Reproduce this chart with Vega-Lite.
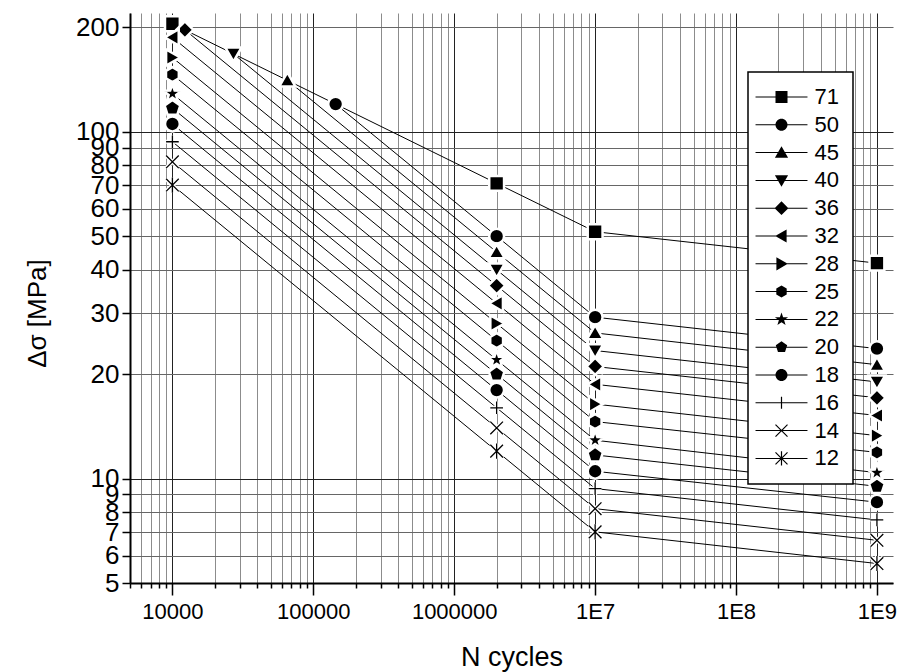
{
  "$schema": "https://vega.github.io/schema/vega-lite/v6.json",
  "autosize": {"type": "none"},
  "width": 763,
  "height": 570,
  "padding": {"left": 130, "top": 13, "right": 19, "bottom": 89},
  "background": "white",
  "config": {
    "font": "Liberation Sans",
    "view": {"stroke": null},
    "legend": {"strokeWidth": 1.5}
  },
  "datasets": {
    "curves": [
      {"cat": 71, "N": 10000, "S": 204.8}, {"cat": 71, "N": 2000000, "S": 71}, {"cat": 71, "N": 10000000, "S": 51.5}, {"cat": 71, "N": 1000000000, "S": 41.8},
      {"cat": 50, "N": 144000, "S": 120.2}, {"cat": 50, "N": 2000000, "S": 50}, {"cat": 50, "N": 10000000, "S": 29.2}, {"cat": 50, "N": 1000000000, "S": 23.7},
      {"cat": 45, "N": 65400, "S": 140.8}, {"cat": 45, "N": 2000000, "S": 45}, {"cat": 45, "N": 10000000, "S": 26.3}, {"cat": 45, "N": 1000000000, "S": 21.3},
      {"cat": 40, "N": 27100, "S": 167.8}, {"cat": 40, "N": 2000000, "S": 40}, {"cat": 40, "N": 10000000, "S": 23.4}, {"cat": 40, "N": 1000000000, "S": 19.0},
      {"cat": 36, "N": 12260, "S": 196.7}, {"cat": 36, "N": 2000000, "S": 36}, {"cat": 36, "N": 10000000, "S": 21.05}, {"cat": 36, "N": 1000000000, "S": 17.1},
      {"cat": 32, "N": 10000, "S": 187.1}, {"cat": 32, "N": 2000000, "S": 32}, {"cat": 32, "N": 10000000, "S": 18.7}, {"cat": 32, "N": 1000000000, "S": 15.2},
      {"cat": 28, "N": 10000, "S": 163.7}, {"cat": 28, "N": 2000000, "S": 28}, {"cat": 28, "N": 10000000, "S": 16.4}, {"cat": 28, "N": 1000000000, "S": 13.3},
      {"cat": 25, "N": 10000, "S": 146.2}, {"cat": 25, "N": 2000000, "S": 25}, {"cat": 25, "N": 10000000, "S": 14.6}, {"cat": 25, "N": 1000000000, "S": 11.9},
      {"cat": 22, "N": 10000, "S": 128.7}, {"cat": 22, "N": 2000000, "S": 22}, {"cat": 22, "N": 10000000, "S": 12.9}, {"cat": 22, "N": 1000000000, "S": 10.4},
      {"cat": 20, "N": 10000, "S": 117.0}, {"cat": 20, "N": 2000000, "S": 20}, {"cat": 20, "N": 10000000, "S": 11.7}, {"cat": 20, "N": 1000000000, "S": 9.5},
      {"cat": 18, "N": 10000, "S": 105.3}, {"cat": 18, "N": 2000000, "S": 18}, {"cat": 18, "N": 10000000, "S": 10.5}, {"cat": 18, "N": 1000000000, "S": 8.55},
      {"cat": 16, "N": 10000, "S": 93.6}, {"cat": 16, "N": 2000000, "S": 16}, {"cat": 16, "N": 10000000, "S": 9.36}, {"cat": 16, "N": 1000000000, "S": 7.6},
      {"cat": 14, "N": 10000, "S": 81.9}, {"cat": 14, "N": 2000000, "S": 14}, {"cat": 14, "N": 10000000, "S": 8.19}, {"cat": 14, "N": 1000000000, "S": 6.64},
      {"cat": 12, "N": 10000, "S": 70.2}, {"cat": 12, "N": 2000000, "S": 12}, {"cat": 12, "N": 10000000, "S": 7.02}, {"cat": 12, "N": 1000000000, "S": 5.69}
    ]
  },
  "encoding": {
    "x": {
      "field": "N", "type": "quantitative",
      "scale": {"type": "log", "domain": [5000, 1300000000], "nice": false, "zero": false},
      "axis": {
        "values": [5000, 6000, 7000, 8000, 9000, 10000, 20000, 30000, 40000, 50000, 60000, 70000, 80000, 90000, 100000, 200000, 300000, 400000, 500000, 600000, 700000, 800000, 900000, 1000000, 2000000, 3000000, 4000000, 5000000, 6000000, 7000000, 8000000, 9000000, 10000000, 20000000, 30000000, 40000000, 50000000, 60000000, 70000000, 80000000, 90000000, 100000000, 200000000, 300000000, 400000000, 500000000, 600000000, 700000000, 800000000, 900000000, 1000000000],
        "labelExpr": "indexof([10000,100000,1000000], datum.value) >= 0 ? format(datum.value, 'd') : (indexof([10000000,100000000,1000000000], datum.value) >= 0 ? '1E' + format(log(datum.value)/LN10, '.0f') : '')",
        "labelFontSize": 22, "labelColor": "black", "labelPadding": 6, "labelOverlap": false, "labelFlush": false,
        "tickSize": {"condition": {"test": "indexof([10000,100000,1000000,10000000,100000000,1000000000], datum.value) >= 0", "value": 12}, "value": 5},
        "tickColor": "black", "tickWidth": 1.5,
        "domainColor": "black", "domainWidth": 2,
        "grid": true,
        "gridColor": {"condition": {"test": "indexof([10000,100000,1000000,10000000,100000000,1000000000], datum.value) >= 0", "value": "#222"}, "value": "#8c8c8c"},
        "gridWidth": 1,
        "title": "N cycles", "titleFontSize": 27, "titleFontWeight": "normal", "titleColor": "black",
        "titleY": 82, "titleBaseline": "alphabetic"
      }
    },
    "y": {
      "field": "S", "type": "quantitative",
      "scale": {"type": "log", "domain": [5, 220], "nice": false, "zero": false},
      "axis": {
        "values": [5, 6, 7, 8, 9, 10, 20, 30, 40, 50, 60, 70, 80, 90, 100, 200],
        "labelExpr": "format(datum.value, 'd')",
        "labelFontSize": 26, "labelColor": "black", "labelPadding": 3, "labelOverlap": false, "labelFlush": false,
        "tickSize": 8, "tickColor": "black", "tickWidth": 1.5,
        "domainColor": "black", "domainWidth": 2,
        "grid": true,
        "gridColor": {"condition": {"test": "datum.value == 10 || datum.value == 100", "value": "#222"}, "value": "#666"},
        "gridWidth": 1,
        "title": "Δσ [MPa]", "titleFontSize": 26, "titleFontWeight": "normal", "titleColor": "black",
        "titleX": -93, "titleY": 300, "titleBaseline": "middle", "titleAngle": -90
      }
    }
  },
  "layer": [
    {
      "data": {"values": [{}]},
      "mark": {"type": "rect", "fill": "white", "stroke": "black", "strokeWidth": 1.5},
      "encoding": {
        "x": {"datum": 8058, "type": "quantitative"},
        "x2": {"datum": 1873000},
        "y": {"datum": 10.17, "type": "quantitative"},
        "y2": {"datum": 6.54}
      }
    },
    {
      "data": {"values": [{}]},
      "mark": {"type": "text", "align": "left", "baseline": "alphabetic", "fontSize": 22, "lineHeight": 24, "color": "black",
               "text": ["Net of S-N curves for aluminium", "at constant amplitude loading"]},
      "encoding": {
        "x": {"datum": 8850, "type": "quantitative"},
        "y": {"datum": 8.56, "type": "quantitative"}
      }
    },
    {
      "data": {"name": "curves"},
      "mark": {"type": "line", "color": "black", "strokeWidth": 1},
      "encoding": {"detail": {"field": "cat", "type": "nominal"}}
    },
    {
      "data": {"name": "curves"},
      "transform": [{"filter": "datum.cat >= 18"}],
      "mark": {"type": "point", "filled": true, "fill": "black", "stroke": "white", "strokeWidth": 2.5, "size": 220, "opacity": 1},
      "encoding": {
        "shape": {
          "field": "cat", "type": "nominal", "legend": null,
          "scale": {
            "domain": [71, 50, 45, 40, 36, 32, 28, 25, 22, 20, 18],
            "range": [
              "square",
              "circle",
              "M0,-1.05L1.1,0.85L-1.1,0.85Z",
              "M0,1.05L1.1,-0.85L-1.1,-0.85Z",
              "M0,-1.15L1.15,0L0,1.15L-1.15,0Z",
              "M-1.05,0L0.85,-1.1L0.85,1.1Z",
              "M1.05,0L-0.85,-1.1L-0.85,1.1Z",
              "M0,-1L0.866,-0.5L0.866,0.5L0,1L-0.866,0.5L-0.866,-0.5Z",
              "M0,-1.3L0.3,-0.42L1.24,-0.4L0.5,0.16L0.77,1.05L0,0.52L-0.77,1.05L-0.5,0.16L-1.24,-0.4L-0.3,-0.42Z",
              "M0,-1.1L1.05,-0.34L0.65,0.9L-0.65,0.9L-1.05,-0.34Z",
              "circle"
            ]
          }
        }
      }
    },
    {
      "data": {"name": "curves"},
      "transform": [{"filter": "datum.cat <= 16"}],
      "mark": {"type": "point", "filled": false, "stroke": "white", "strokeWidth": 4, "size": 160, "opacity": 1},
      "encoding": {
        "shape": {
          "field": "cat", "type": "nominal", "legend": null,
          "scale": {
            "domain": [16, 14, 12],
            "range": ["M-1,0H1M0,-1V1", "M-1,-1L1,1M-1,1L1,-1", "M-1,-1L1,1M-1,1L1,-1M0,-1.2V1.2"]
          }
        }
      }
    },
    {
      "data": {"name": "curves"},
      "transform": [{"filter": "datum.cat <= 16"}],
      "mark": {"type": "point", "filled": false, "stroke": "black", "strokeWidth": 1.3, "size": 160, "opacity": 1},
      "encoding": {
        "shape": {
          "field": "cat", "type": "nominal", "legend": null,
          "scale": {
            "domain": [16, 14, 12],
            "range": ["M-1,0H1M0,-1V1", "M-1,-1L1,1M-1,1L1,-1", "M-1,-1L1,1M-1,1L1,-1M0,-1.2V1.2"]
          }
        }
      }
    },
    {
      "data": {"name": "curves"},
      "transform": [{"filter": "datum.N == 2000000"}],
      "mark": {"type": "point", "filled": true, "color": "black", "opacity": 1, "clip": true},
      "encoding": {
        "y": {"datum": 1, "type": "quantitative"},
        "shape": {
          "field": "cat", "type": "nominal",
          "scale": {
            "domain": [71, 50, 45, 40, 36, 32, 28, 25, 22, 20, 18, 16, 14, 12],
            "range": [
              "M-4.33,-0.085H4.33V0.085H-4.33ZM-1,-1H1V1H-1Z",
              "M-4.33,-0.085H4.33V0.085H-4.33ZM1,0A1,1,0,1,1,-1,0A1,1,0,1,1,1,0Z",
              "M-4.33,-0.085H4.33V0.085H-4.33ZM0,-1.05L1.1,0.85L-1.1,0.85Z",
              "M-4.33,-0.085H4.33V0.085H-4.33ZM0,1.05L-1.1,-0.85L1.1,-0.85Z",
              "M-4.33,-0.085H4.33V0.085H-4.33ZM0,-1.15L1.15,0L0,1.15L-1.15,0Z",
              "M-4.33,-0.085H4.33V0.085H-4.33ZM-1.05,0L0.85,-1.1L0.85,1.1Z",
              "M-4.33,-0.085H4.33V0.085H-4.33ZM1.05,0L-0.85,1.1L-0.85,-1.1Z",
              "M-4.33,-0.085H4.33V0.085H-4.33ZM0,-1L0.866,-0.5L0.866,0.5L0,1L-0.866,0.5L-0.866,-0.5Z",
              "M-4.33,-0.085H4.33V0.085H-4.33ZM0,-1.15L0.27,-0.37L1.09,-0.36L0.44,0.14L0.68,0.93L0,0.46L-0.68,0.93L-0.44,0.14L-1.09,-0.36L-0.27,-0.37Z",
              "M-4.33,-0.085H4.33V0.085H-4.33ZM0,-1L0.951,-0.309L0.588,0.809L-0.588,0.809L-0.951,-0.309Z",
              "M-4.33,-0.085H4.33V0.085H-4.33ZM1,0A1,1,0,1,1,-1,0A1,1,0,1,1,1,0Z",
              "M-4.33,-0.085H4.33V0.085H-4.33ZM-0.1,-1H0.1V1H-0.1Z",
              "M-4.33,-0.085H4.33V0.085H-4.33ZM-0.93,-1.07L1.07,0.93L0.93,1.07L-1.07,-0.93ZM-1.07,0.93L0.93,-1.07L1.07,-0.93L-0.93,1.07Z",
              "M-4.33,-0.085H4.33V0.085H-4.33ZM-0.93,-1.07L1.07,0.93L0.93,1.07L-1.07,-0.93ZM-1.07,0.93L0.93,-1.07L1.07,-0.93L-0.93,1.07ZM-0.1,-1.2H0.1V1.2H-0.1Z"
            ]
          },
          "legend": {
            "orient": "none", "legendX": 618, "legendY": 59, "title": null,
            "strokeColor": "black", "fillColor": "white", "padding": 14,
            "symbolSize": 144, "symbolFillColor": "black",
            "symbolOffset": 8.5, "labelOffset": 22, "rowPadding": 5.8,
            "labelFontSize": 22, "labelColor": "black", "labelLimit": 200
          }
        }
      }
    }
  ],
  "resolve": {"scale": {"shape": "independent"}, "legend": {"shape": "independent"}}
}
